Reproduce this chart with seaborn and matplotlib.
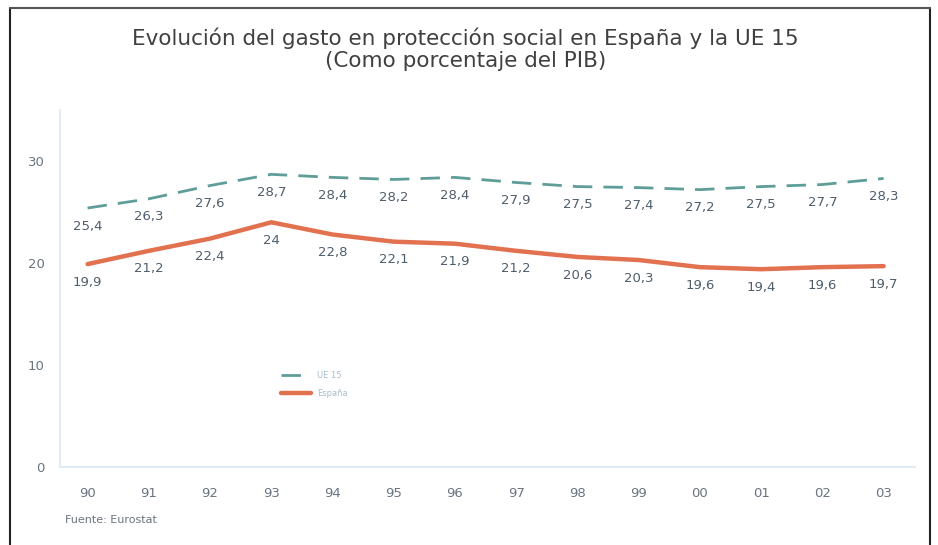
import pandas as pd
import matplotlib.pyplot as plt
import seaborn as sns
from matplotlib.lines import Line2D

years = ["90", "91", "92", "93", "94", "95", "96", "97", "98", "99", "00", "01", "02", "03"]
ue15 = [25.4, 26.3, 27.6, 28.7, 28.4, 28.2, 28.4, 27.9, 27.5, 27.4, 27.2, 27.5, 27.7, 28.3]
espana = [19.9, 21.2, 22.4, 24, 22.8, 22.1, 21.9, 21.2, 20.6, 20.3, 19.6, 19.4, 19.6, 19.7]

sns.set_theme(style="white")
plt.rcParams["font.family"] = ["DejaVu Sans"]

df = pd.DataFrame({
    "pos": list(range(len(years))) * 2,
    "valor": ue15 + espana,
    "serie": ["UE 15"] * len(years) + ["España"] * len(years),
})

ue_color = "#5f9e98"
es_color = "#e2714f"
label_color = "#4e5d6c"

fig = plt.figure(figsize=(9.38, 5.45), dpi=100)
ax = fig.add_axes([0.064, 0.143, 0.912, 0.655])

sns.lineplot(data=df[df["serie"] == "UE 15"], x="pos", y="valor", ax=ax,
             color=ue_color, linewidth=2, label="UE 15")
ax.lines[-1].set_dashes([7, 4])
sns.lineplot(data=df[df["serie"] == "España"], x="pos", y="valor", ax=ax,
             color=es_color, linewidth=3.2, label="España")

for serie in [ue15, espana]:
    for i, v in enumerate(serie):
        ax.annotate(f"{v:g}".replace(".", ","), (i, v), xytext=(0, -13),
                    textcoords="offset points", ha="center", va="center",
                    fontsize=9.5, color=label_color)

ax.set_xlim(-0.45, 13.52)
ax.set_ylim(0, 35)
ax.set_yticks([0, 10, 20, 30])
ax.set_xticks(range(len(years)))
ax.set_xticklabels(years)
ax.set_xlabel("")
ax.set_ylabel("")
ax.tick_params(axis="both", colors="#6a7480", labelsize=9.5, length=0, pad=14)
ax.tick_params(axis="y", pad=11)
for side in ["top", "right"]:
    ax.spines[side].set_visible(False)
for side in ["left", "bottom"]:
    ax.spines[side].set_color("#dbe8f2")
    ax.spines[side].set_linewidth(1.2)

leg = ax.legend(loc="upper left", bbox_to_anchor=(0.25, 0.29), frameon=False,
                fontsize=6, handlelength=3.5, labelspacing=1.1,
                labelcolor="#a9bccd")

fig.text(0.496, 0.93, "Evolución del gasto en protección social en España y la UE 15",
         ha="center", va="center", fontsize=15.5, color="#404040")
fig.text(0.496, 0.888, "(Como porcentaje del PIB)",
         ha="center", va="center", fontsize=15.5, color="#404040")
fig.text(0.069, 0.045, "Fuente: Eurostat", ha="left", va="center",
         fontsize=8, color="#6a7480")

# marco exterior
fig.add_artist(Line2D([0.011, 0.011], [0.0, 0.985], color="#222222", lw=1.5))
fig.add_artist(Line2D([0.991, 0.991], [0.0, 0.985], color="#222222", lw=1.5))
fig.add_artist(Line2D([0.011, 0.991], [0.985, 0.985], color="#555555", lw=1.5))

fig.savefig("out.png", dpi=100)
